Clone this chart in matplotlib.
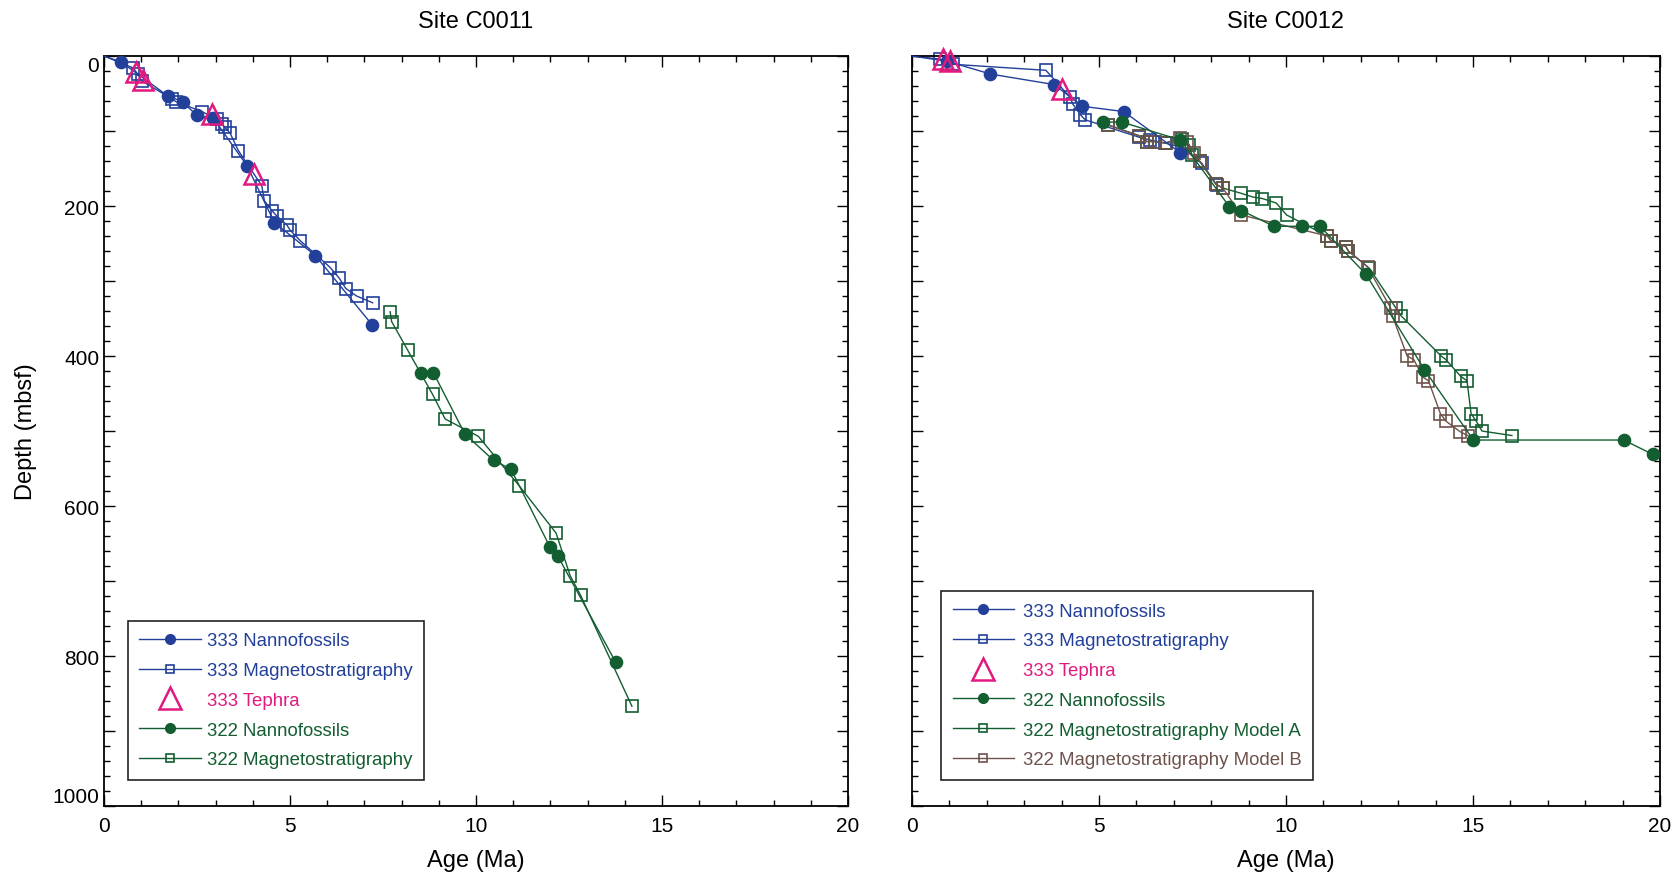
import numpy as np
import matplotlib
matplotlib.use('Agg')
import matplotlib.pyplot as plt
from matplotlib.ticker import MultipleLocator

plt.rcParams['font.family'] = ['Liberation Sans', 'DejaVu Sans']

# colours
BLUE = '#22409a'
PINK = '#e2197e'
GREEN = '#135e31'
BROWN = '#6e524c'

# ---- Site C0011 (left) ----
# first point (0,0) is only the start of the line, no marker there
c11_n333_age = [0, 0.46, 1.71, 2.11, 2.49, 2.94, 3.84, 4.58, 5.68, 7.20]
c11_n333_depth = [0, 8, 53, 61, 79, 83, 146, 222, 266, 358]

c11_m333_age = [0, 0.79, 0.90, 1.01, 1.82, 1.94, 2.63, 3.03, 3.16, 3.25, 3.39, 3.61,
                4.24, 4.31, 4.51, 4.64, 4.91, 5.00, 5.27, 6.08, 6.32, 6.50, 6.79, 7.22]
c11_m333_depth = [0, 16, 24, 33, 57, 61, 74, 84, 91, 95, 103, 126,
                  173, 193, 206, 213, 225, 232, 246, 282, 296, 310, 320, 329]

c11_t333_age = [0.85, 1.04, 2.89, 4.03]
c11_t333_depth = [21, 32, 77, 157]

c11_n322_age = [8.52, 8.85, 9.70, 10.47, 10.94, 11.99, 12.19, 13.75]
c11_n322_depth = [422, 422, 504, 539, 551, 655, 666, 808]

c11_m322_age = [7.69, 7.73, 8.16, 8.83, 9.17, 10.06, 11.16, 12.15, 12.53, 12.81, 14.19]
c11_m322_depth = [341, 354, 392, 451, 484, 507, 573, 636, 693, 719, 867]

# ---- Site C0012 (right) ----
c12_n333_age = [0, 0.95, 2.10, 3.80, 4.56, 5.66, 7.18]
c12_n333_depth = [0, 7, 24, 38, 67, 74, 129]

c12_m333_age = [0, 0.74, 1.10, 3.58, 4.23, 4.30, 4.50, 4.63, 6.06, 6.37, 6.77, 7.22, 7.75, 8.15]
c12_m333_depth = [0, 4, 11, 19, 55, 64, 78, 85, 108, 112, 116, 122, 143, 172]

c12_t333_age = [0.83, 1.03, 4.02]
c12_t333_depth = [4, 7, 44]

c12_n322_age = [5.12, 5.61, 7.18, 8.49, 8.81, 9.68, 10.44, 10.91, 12.14, 13.70, 15.01, 19.03, 19.80]
c12_n322_depth = [88, 88, 112, 201, 206, 227, 227, 227, 291, 418, 512, 512, 531]

c12_mA_age = [5.25, 6.06, 6.28, 6.51, 6.78, 7.22, 7.40, 7.49, 7.69, 8.13, 8.31, 8.80, 9.12,
              9.37, 9.74, 10.02, 11.11, 11.20, 11.60, 11.67, 12.23, 12.94, 13.07, 14.15,
              14.28, 14.67, 14.84, 14.95, 15.09, 15.24, 16.04]
c12_mA_depth = [92, 106, 114, 114, 116, 110, 118, 132, 140, 171, 176, 183, 188,
                190, 196, 212, 240, 246, 254, 260, 283, 336, 346, 400,
                405, 427, 433, 477, 487, 500, 506]

c12_mB_age = [5.25, 6.06, 6.28, 6.51, 6.78, 7.18, 7.36, 7.54, 7.69, 8.13, 8.31, 8.81, 11.11,
              11.20, 11.60, 11.67, 12.18, 12.80, 12.85, 13.24, 13.42, 13.66, 13.81, 14.13,
              14.28, 14.66, 14.86]
c12_mB_depth = [92, 106, 114, 114, 116, 109, 114, 129, 140, 171, 176, 212, 240,
                246, 254, 260, 281, 336, 347, 400, 405, 428, 433, 477,
                487, 501, 506]


def circ(ax, x, y, color, label, start=0):
    ax.plot(x, y, color=color, lw=1.0, marker='o', ms=8.8, mec=color, mfc=color,
            markevery=slice(start, None), label=label, clip_on=False, zorder=3)


def sq(ax, x, y, color, label, start=0):
    ax.plot(x, y, color=color, lw=1.0, marker='s', ms=8, mec=color, mfc='none',
            mew=1.2, markevery=slice(start, None), label=label, clip_on=False, zorder=2)


def tri(ax, x, y, label):
    ax.plot(x, y, ls='none', marker='^', ms=15, mec=PINK, mfc='none', mew=1.8,
            label=label, clip_on=False, zorder=4)


def style_axes(ax, ylabels=True):
    ax.set_xlim(0, 20)
    ax.set_ylim(1000, 0)
    ax.xaxis.set_major_locator(MultipleLocator(5))
    ax.xaxis.set_minor_locator(MultipleLocator(1))
    yt = np.arange(0, 1001, 100)
    ax.set_yticks(yt, labels=[str(v) if v % 200 == 0 else '' for v in yt])
    ax.yaxis.set_minor_locator(MultipleLocator(20))
    ax.tick_params(which='both', direction='in', top=True, right=True, width=1.0,
                   labelsize=15)
    ax.tick_params(which='major', length=7.7)
    ax.tick_params(which='minor', length=4)
    ax.tick_params(axis='x', pad=7)
    ax.tick_params(axis='y', labelleft=ylabels)
    for s in ax.spines.values():
        s.set_linewidth(1.3)
    if ylabels:
        labs = ax.get_yticklabels()
        labs[0].set_va('top')
        labs[-1].set_va('bottom')
    ax.set_xlabel('Age (Ma)', fontsize=17, labelpad=10)


fig = plt.figure(figsize=(16.81, 8.79), dpi=100)
ax1 = fig.add_axes([0.0619, 0.0819, 0.4426, 0.8532])
ax2 = fig.add_axes([0.5425, 0.0819, 0.4450, 0.8532])

# left panel
circ(ax1, c11_n333_age, c11_n333_depth, BLUE, '333 Nannofossils', start=1)
sq(ax1, c11_m333_age, c11_m333_depth, BLUE, '333 Magnetostratigraphy', start=1)
tri(ax1, c11_t333_age, c11_t333_depth, '333 Tephra')
circ(ax1, c11_n322_age, c11_n322_depth, GREEN, '322 Nannofossils')
sq(ax1, c11_m322_age, c11_m322_depth, GREEN, '322 Magnetostratigraphy')
style_axes(ax1, True)
ax1.set_ylabel('Depth (mbsf)', fontsize=17, labelpad=11)
ax1.set_title('Site C0011', fontsize=17, pad=21)

# right panel
circ(ax2, c12_n333_age, c12_n333_depth, BLUE, '333 Nannofossils', start=1)
sq(ax2, c12_m333_age, c12_m333_depth, BLUE, '333 Magnetostratigraphy', start=1)
tri(ax2, c12_t333_age, c12_t333_depth, '333 Tephra')
circ(ax2, c12_n322_age, c12_n322_depth, GREEN, '322 Nannofossils')
sq(ax2, c12_mA_age, c12_mA_depth, GREEN, '322 Magnetostratigraphy Model A')
sq(ax2, c12_mB_age, c12_mB_depth, BROWN, '322 Magnetostratigraphy Model B')
style_axes(ax2, False)
ax2.set_title('Site C0012', fontsize=17, pad=21)


def legend(ax, colors, anchor, textpad):
    leg = ax.legend(loc='lower left', bbox_to_anchor=anchor, borderaxespad=0,
                    fontsize=13.4, handlelength=3.3, labelspacing=0.68, borderpad=0.62,
                    handletextpad=textpad, fancybox=False, framealpha=1,
                    edgecolor='#222222', labelcolor=colors)
    leg.get_frame().set_linewidth(1.2)
    for h in leg.legend_handles:
        m = h.get_marker()
        if m == 'o':
            h.set_markersize(7)
        elif m == 's':
            h.set_markersize(6)
        elif m == '^':
            h.set_markersize(16)
    return leg


legend(ax1, [BLUE, BLUE, PINK, GREEN, GREEN], (0.032, 0.035), 0.32)
legend(ax2, [BLUE, BLUE, PINK, GREEN, GREEN, BROWN], (0.039, 0.035), 0.48)

fig.savefig('out.png', dpi=100)
